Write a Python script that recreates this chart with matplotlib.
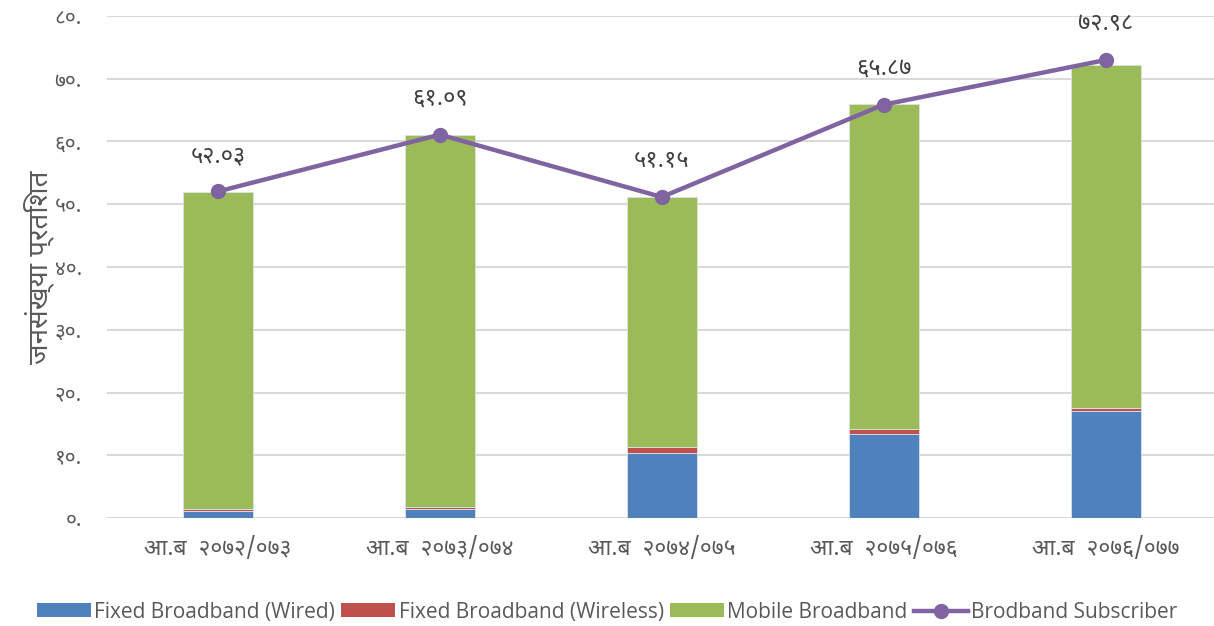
import matplotlib
matplotlib.use("Agg")
import matplotlib.pyplot as plt
from matplotlib.lines import Line2D
from matplotlib.patches import Patch
import numpy as np

# fiscal years and broadband penetration (% of population)
years = ["आ.ब  २०७२/०७३", "आ.ब  २०७३/०७४", "आ.ब  २०७४/०७५", "आ.ब  २०७५/०७६", "आ.ब  २०७६/०७७"]
wired = [1.1, 1.4, 10.4, 13.4, 17.0]
wireless = [0.3, 0.4, 0.9, 0.8, 0.6]
mobile = [50.6, 59.3, 39.85, 51.8, 54.6]
subscriber = [52.03, 61.09, 51.15, 65.87, 72.98]

DEVA = ["Noto Sans Devanagari", "DejaVu Sans"]
LATIN = ["Open Sans", "DejaVu Sans"]
GREY = "#595959"

DIGITS = str.maketrans("0123456789", "०१२३४५६७८९")


def deva(s):
    return s.translate(DIGITS)


fig = plt.figure(figsize=(12.14, 6.26), dpi=100)
ax = fig.add_axes([0.0881, 0.1725, 0.914, 0.802])

x = np.arange(len(years))
w = 0.315
edge = dict(edgecolor="#dce3ea", linewidth=0.6)
ax.bar(x, wired, w, color="#4f81bd", zorder=2, **edge)
ax.bar(x, wireless, w, bottom=wired, color="#c0504d", zorder=2, **edge)
base = np.array(wired) + np.array(wireless)
ax.bar(x, mobile, w, bottom=base, color="#9bbb59", zorder=2, **edge)

ax.plot(x, subscriber, color="#8064a2", lw=3.2, marker="o", ms=10, zorder=3)
for xi, v in zip(x, subscriber):
    ax.annotate(deva(f"{v:.2f}"), (xi, v), xytext=(0, 17), textcoords="offset points",
                ha="center", va="bottom", fontsize=17, color="#404040", family=DEVA)

ax.set_xlim(-0.5, len(years) - 0.5)
ax.set_ylim(0, 80)
ticks = np.arange(0, 81, 10)
ax.set_yticks(ticks)
ax.set_yticklabels([deva(f"{t}.") for t in ticks], family=DEVA, fontsize=15, color=GREY)
ax.set_xticks(x)
ax.set_xticklabels(years, family=DEVA, fontsize=16.5, color=GREY)
ax.tick_params(length=0)
ax.tick_params(axis="y", pad=18)
ax.tick_params(axis="x", pad=14)
ax.grid(axis="y", color="#d9d9d9", lw=1.5, zorder=0)
ax.set_axisbelow(True)
for s in ax.spines.values():
    s.set_visible(False)

ax.set_ylabel("जनसंख्या प्रतिशत", family=DEVA, fontsize=20, color=GREY, labelpad=0)

handles = [
    Patch(facecolor="#4f81bd", label="Fixed Broadband (Wired)"),
    Patch(facecolor="#c0504d", label="Fixed Broadband (Wireless)"),
    Patch(facecolor="#9bbb59", label="Mobile Broadband"),
    Line2D([], [], color="#8064a2", lw=3.2, marker="o", ms=10, label="Brodband Subscriber"),
]
fig.legend(handles=handles, loc="center", bbox_to_anchor=(0.5, 0.022), ncol=4, frameon=False,
           prop={"family": LATIN, "size": 15}, labelcolor=GREY, handlelength=2.6,
           handleheight=0.65, handletextpad=0.15, columnspacing=0.3, borderaxespad=0)

fig.savefig("out.png", dpi=100)
